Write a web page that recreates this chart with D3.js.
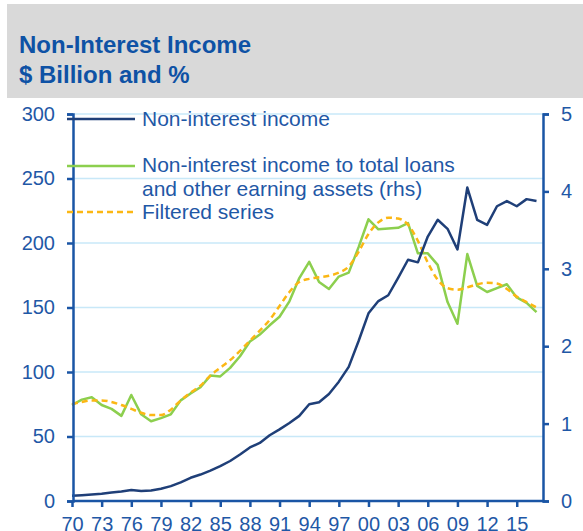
<!DOCTYPE html>
<html>
<head>
<meta charset="utf-8">
<script src="https://cdn.jsdelivr.net/npm/d3@7"></script>
<style>
  body { margin: 0; background: #fff; }
  text { font-family: "Liberation Sans", Arial, sans-serif; }
</style>
</head>
<body>
<div id="chart"></div>
<script>
// Data
const years = d3.range(1970, 2018);

// Non-interest income, $ billion (lhs)
const nonInterestIncome = [
  4, 4.5, 5, 5.6, 6.5, 7.3, 8.5, 7.7, 8.2, 9.5,
  11.5, 14.5, 18, 20.5, 23.6, 27, 31, 36, 41.5, 45,
  51, 55.5, 60.5, 66, 75, 76.5, 83, 92.5, 104, 124,
  145.5, 155, 159.5, 173, 187, 185, 205, 218, 211, 195,
  243, 218, 214, 228.5, 232.5, 228.5, 234, 232.5
];

// Non-interest income to total loans and other earning assets, % (rhs)
const incomeRatio = [
  1.24, 1.31, 1.34, 1.24, 1.19, 1.10, 1.37, 1.12, 1.03, 1.07,
  1.12, 1.30, 1.39, 1.47, 1.62, 1.61, 1.72, 1.87, 2.06, 2.15,
  2.27, 2.38, 2.58, 2.88, 3.09, 2.83, 2.74, 2.90, 2.95, 3.28,
  3.64, 3.51, 3.52, 3.53, 3.59, 3.20, 3.20, 3.05, 2.57, 2.29,
  3.19, 2.78, 2.70, 2.75, 2.80, 2.63, 2.56, 2.44
];

// Filtered series, % (rhs)
const filteredRatio = [
  1.25, 1.28, 1.30, 1.30, 1.28, 1.24, 1.19, 1.14, 1.11, 1.11,
  1.18, 1.30, 1.40, 1.49, 1.62, 1.72, 1.82, 1.94, 2.07, 2.20,
  2.34, 2.52, 2.70, 2.83, 2.87, 2.89, 2.91, 2.95, 3.03, 3.22,
  3.45, 3.60, 3.66, 3.65, 3.57, 3.36, 3.08, 2.86, 2.75, 2.73,
  2.76, 2.80, 2.82, 2.81, 2.74, 2.64, 2.57, 2.50
];

const xTicks = d3.range(1970, 2016, 3);
const leftTicks = [0, 50, 100, 150, 200, 250, 300];
const rightTicks = [0, 1, 2, 3, 4, 5];

const titleLines = ["Non-Interest Income", "$ Billion and %"];
const legendLabels = [
  ["Non-interest income"],
  ["Non-interest income to total loans", "and other earning assets (rhs)"],
  ["Filtered series"]
];

const svgWidth = 583;
const svgHeight = 531;

// plot box edges
const plotLeft = 73;
const plotRight = 543;
const plotTop = 114;
const plotBottom = 501;

const axisBlue = "#1a55a5";
const textBlue = "#1f58a6";
const darkLine = "#1f3f78";
const greenLine = "#8ccf4e";
const yellowLine = "#fbb714";

const svg = d3.select("#chart")
  .append("svg")
  .attr("width", svgWidth)
  .attr("height", svgHeight);

// Title panel
svg.append("rect")
  .attr("x", 7)
  .attr("y", 4)
  .attr("width", 576)
  .attr("height", 94)
  .attr("fill", "#d9d9d9");

svg.selectAll(".title")
  .data(titleLines)
  .enter()
  .append("text")
  .attr("class", "title")
  .attr("x", 19)
  .attr("y", (d, i) => 53 + i * 30)
  .attr("fill", "#0e52a5")
  .attr("font-size", 24)
  .attr("font-weight", "bold")
  .text(d => d);

// Scales
const xScale = d3.scaleLinear()
  .domain([1970, 2017])
  .range([72, 536.5]);

const yLeft = d3.scaleLinear()
  .domain([0, 300])
  .range([plotBottom, plotTop]);

const yRight = d3.scaleLinear()
  .domain([0, 5])
  .range([plotBottom, plotTop]);

// Gridlines
svg.append("g")
  .selectAll("line")
  .data(leftTicks.filter(d => d > 0))
  .enter()
  .append("line")
  .attr("x1", plotLeft)
  .attr("x2", plotRight)
  .attr("y1", d => yLeft(d))
  .attr("y2", d => yLeft(d))
  .attr("stroke", "#c8e8f8")
  .attr("stroke-width", 1.5);

// Lines
const incomeLine = d3.line()
  .x((d, i) => xScale(years[i]))
  .y(d => yLeft(d));

const ratioLine = d3.line()
  .x((d, i) => xScale(years[i]))
  .y(d => yRight(d));

const smoothLine = d3.line()
  .x((d, i) => xScale(years[i]))
  .y(d => yRight(d))
  .curve(d3.curveMonotoneX);

svg.append("path")
  .datum(incomeRatio)
  .attr("d", ratioLine)
  .attr("fill", "none")
  .attr("stroke", greenLine)
  .attr("stroke-width", 2.5)
  .attr("stroke-linejoin", "round");

svg.append("path")
  .datum(filteredRatio)
  .attr("d", smoothLine)
  .attr("fill", "none")
  .attr("stroke", yellowLine)
  .attr("stroke-width", 2.5)
  .attr("stroke-dasharray", "6,4");

svg.append("path")
  .datum(nonInterestIncome)
  .attr("d", incomeLine)
  .attr("fill", "none")
  .attr("stroke", darkLine)
  .attr("stroke-width", 2.5)
  .attr("stroke-linejoin", "round");

// Axes
function styleAxis(g) {
  g.selectAll("path, line")
    .attr("stroke", axisBlue)
    .attr("stroke-width", 2.5);
  g.selectAll("text")
    .attr("fill", textBlue)
    .attr("font-size", 20)
    .attr("font-family", "'Liberation Sans', Arial, sans-serif");
}

const leftAxis = d3.axisLeft(yLeft)
  .tickValues(leftTicks)
  .tickSize(6)
  .tickSizeOuter(6)
  .tickPadding(12);

const rightAxis = d3.axisRight(yRight)
  .tickValues(rightTicks)
  .tickFormat(d3.format("d"))
  .tickSize(6)
  .tickSizeOuter(6)
  .tickPadding(12);

const bottomAxis = d3.axisBottom(xScale)
  .tickValues(xTicks)
  .tickFormat(d => String(d).slice(2))
  .tickSize(6)
  .tickPadding(10);

svg.append("g")
  .attr("transform", `translate(0, ${plotBottom})`)
  .call(bottomAxis)
  .call(g => g.select(".domain").remove())
  .call(styleAxis);

// bottom frame line
svg.append("line")
  .attr("x1", plotLeft)
  .attr("x2", plotRight)
  .attr("y1", plotBottom)
  .attr("y2", plotBottom)
  .attr("stroke", axisBlue)
  .attr("stroke-width", 2.5);

svg.append("g")
  .attr("transform", `translate(${plotLeft}, 0)`)
  .call(leftAxis)
  .call(styleAxis);

svg.append("g")
  .attr("transform", `translate(${plotRight}, 0)`)
  .call(rightAxis)
  .call(styleAxis);

// Legend
const legendRows = [
  { y: 119, color: darkLine, dash: null, textY: [126] },
  { y: 166, color: greenLine, dash: null, textY: [172, 196] },
  { y: 212, color: yellowLine, dash: "6,4", textY: [219] }
];

legendRows.forEach((row, i) => {
  svg.append("line")
    .attr("x1", 67)
    .attr("x2", 135)
    .attr("y1", row.y)
    .attr("y2", row.y)
    .attr("stroke", row.color)
    .attr("stroke-width", 2.5)
    .attr("stroke-dasharray", row.dash);

  legendLabels[i].forEach((label, j) => {
    svg.append("text")
      .attr("x", 142)
      .attr("y", row.textY[j])
      .attr("fill", textBlue)
      .attr("font-size", 21)
      .text(label);
  });
});
</script>
</body>
</html>
